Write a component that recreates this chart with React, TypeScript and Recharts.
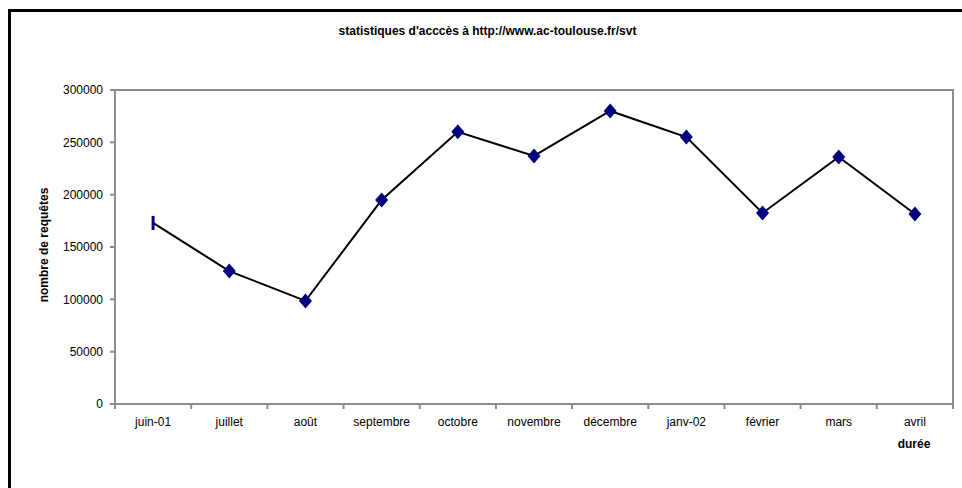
import React from "react";
import { LineChart, Line, XAxis, YAxis, ReferenceArea, ReferenceLine } from "recharts";

// données
const months = [
  "juin-01",
  "juillet",
  "août",
  "septembre",
  "octobre",
  "novembre",
  "décembre",
  "janv-02",
  "février",
  "mars",
  "avril",
];
const requetes = [
  173000, 127000, 98500, 195000, 260000, 237000, 280000, 255000, 182500,
  236000, 181500,
];
const yTicks = [0, 50000, 100000, 150000, 200000, 250000, 300000];
const bandEdges = [0, 1, 2, 3, 4, 5, 6, 7, 8, 9, 10, 11];

const data = months.map((mois, i) => ({ mois, requetes: requetes[i] }));

const FONT = "'Liberation Sans', Arial, Helvetica, sans-serif";
const AXIS = "#8c8c8c";
const NAVY = "#000080";

const renderDot = (props: any) => {
  const { cx, cy, index } = props;
  if (index === 0) {
    return (
      <rect key={`d${index}`} x={cx - 1.5} y={cy - 7} width={3} height={14} fill={NAVY} />
    );
  }
  return (
    <path
      key={`d${index}`}
      d={`M${cx},${cy - 7.5} L${cx + 6.5},${cy} L${cx},${cy + 7.5} L${cx - 6.5},${cy} Z`}
      fill={NAVY}
    />
  );
};

export default function App() {
  return (
    <div
      style={{
        position: "absolute",
        left: 0,
        top: 0,
        width: 962,
        height: 488,
        overflow: "hidden",
        background: "#fff",
        fontFamily: FONT,
      }}
    >
      <div
        style={{
          position: "absolute",
          left: 8,
          top: 9,
          width: 1000,
          height: 600,
          border: "3px solid #000",
        }}
      />
      <div
        style={{
          position: "absolute",
          left: 0,
          top: 24,
          width: 975,
          textAlign: "center",
          fontSize: 12,
          fontWeight: "bold",
          color: "#000",
        }}
      >
        statistiques d'acccès à http://www.ac-toulouse.fr/svt
      </div>
      <div
        style={{
          position: "absolute",
          left: 44,
          top: 245,
          transform: "translate(-50%, -50%) rotate(-90deg)",
          whiteSpace: "nowrap",
          fontSize: 12,
          fontWeight: "bold",
          color: "#000",
        }}
      >
        nombre de requêtes
      </div>
      <div
        style={{
          position: "absolute",
          left: 914,
          top: 444,
          transform: "translate(-50%, -50%)",
          fontSize: 12,
          fontWeight: "bold",
          color: "#000",
        }}
      >
        durée
      </div>
      <div style={{ position: "absolute", left: 0, top: 0 }}>
        <LineChart
          width={962}
          height={488}
          data={data}
          margin={{ top: 90, right: 9, left: 55, bottom: 54 }}
          style={{ overflow: "visible" }}
        >
          <XAxis
            xAxisId="a"
            type="number"
            dataKey={(d: any) => months.indexOf(d.mois)}
            domain={[0, 11]}
            allowDataOverflow
            ticks={bandEdges}
            interval={0}
            tickFormatter={() => ""}
            tickSize={5}
            height={1}
            stroke={AXIS}
            strokeWidth={2}
          />
          <XAxis
            xAxisId="b"
            dataKey="mois"
            scale="band"
            axisLine={false}
            tickLine={false}
            tickMargin={6}
            height={29}
            interval={0}
            tick={{ fill: "#000", fontSize: 12, fontFamily: FONT }}
          />
          <YAxis
            yAxisId="l"
            domain={[0, 300000]}
            ticks={yTicks}
            interval={0}
            width={60}
            stroke={AXIS}
            strokeWidth={2}
            tickSize={5}
            tickMargin={7}
            tick={{ fill: "#000", fontSize: 12, fontFamily: FONT }}
          />
          <ReferenceArea
            xAxisId="a"
            yAxisId="l"
            x1={0}
            x2={11}
            y1={0}
            y2={300000}
            fill="none"
            stroke={AXIS}
            strokeWidth={2}
            ifOverflow="visible"
          />
          <ReferenceLine
            xAxisId="a"
            yAxisId="l"
            x={11}
            stroke={AXIS}
            strokeWidth={2}
            ifOverflow="visible"
          />
          <Line
            xAxisId="b"
            yAxisId="l"
            dataKey="requetes"
            stroke="#000"
            strokeWidth={2}
            dot={renderDot}
            activeDot={false}
            isAnimationActive={false}
          />
        </LineChart>
      </div>
    </div>
  );
}
